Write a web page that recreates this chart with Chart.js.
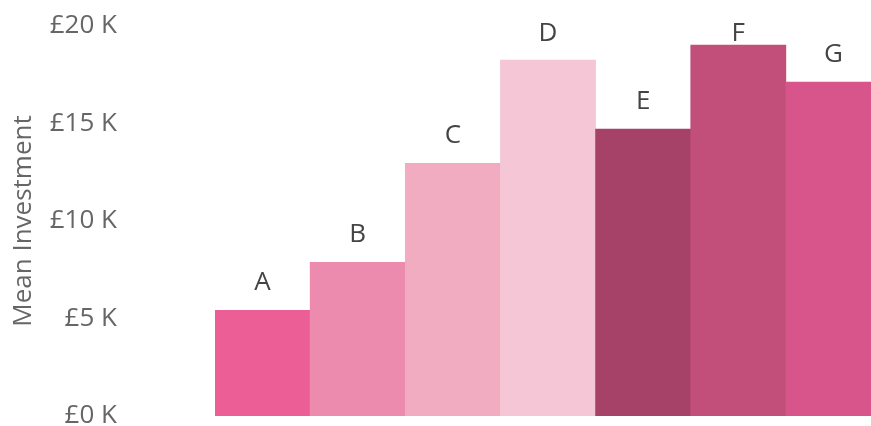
<!DOCTYPE html>
<html>
<head>
<meta charset="utf-8">
<script src="https://cdn.jsdelivr.net/npm/chart.js@4/dist/chart.umd.min.js"></script>
<style>
html,body{margin:0;padding:0;background:#fff;overflow:hidden;}
#wrap{width:881px;height:426px;position:relative;}
</style>
</head>
<body>
<div id="wrap"><canvas id="c" width="881" height="426"></canvas></div>
<script>
const categories = ["A","B","C","D","E","F","G"];
const meanInvestment = [5420, 7880, 12960, 18250, 14710, 19020, 17120];
const barColors = ["#EB5E96","#ED8BAE","#F2ACC2","#F5C6D5","#A64168","#C24F7A","#D7558A"];
const yTicks = [0, 5000, 10000, 15000, 20000];
const yTitle = "Mean Investment";

const FONT = "'Open Sans', sans-serif";

const barLabels = {
  id: 'barLabels',
  afterDatasetsDraw(chart) {
    const ctx = chart.ctx;
    const meta = chart.getDatasetMeta(0);
    const top = chart.chartArea.top;
    ctx.save();
    ctx.font = "26px " + FONT;
    ctx.fillStyle = "#444444";
    ctx.textAlign = "center";
    ctx.textBaseline = "alphabetic";
    meta.data.forEach((bar, i) => {
      const y = Math.max(bar.y - 20, top + 15);
      ctx.fillText(categories[i], bar.x, y);
    });
    ctx.restore();
  }
};

new Chart(document.getElementById('c'), {
  type: 'bar',
  data: {
    labels: categories,
    datasets: [{
      data: meanInvestment,
      backgroundColor: barColors,
      borderWidth: 0,
      categoryPercentage: 1.0,
      barPercentage: 1.0
    }]
  },
  options: {
    responsive: false,
    animation: false,
    devicePixelRatio: 1,
    layout: { padding: { top: 26, bottom: 10, left: 8, right: 0 } },
    plugins: { legend: { display: false }, tooltip: { enabled: false } },
    scales: {
      x: { display: false },
      y: {
        min: 0, max: 20000,
        afterBuildTicks(axis) { axis.ticks = yTicks.map(v => ({ value: v })); },
        afterFit(axis) { axis.width = 207; axis.paddingTop = 0; axis.paddingBottom = 0; },
        grid: { display: false, drawTicks: false },
        border: { display: false },
        ticks: {
          padding: 98,
          color: "#666666",
          font: { family: FONT, size: 26 },
          callback: v => "£" + (v / 1000) + " K"
        },
        title: {
          display: true,
          text: yTitle,
          color: "#666666",
          font: { family: FONT, size: 26 },
          padding: { top: 0, bottom: 0 }
        }
      }
    }
  },
  plugins: [barLabels]
});
</script>
</body>
</html>
